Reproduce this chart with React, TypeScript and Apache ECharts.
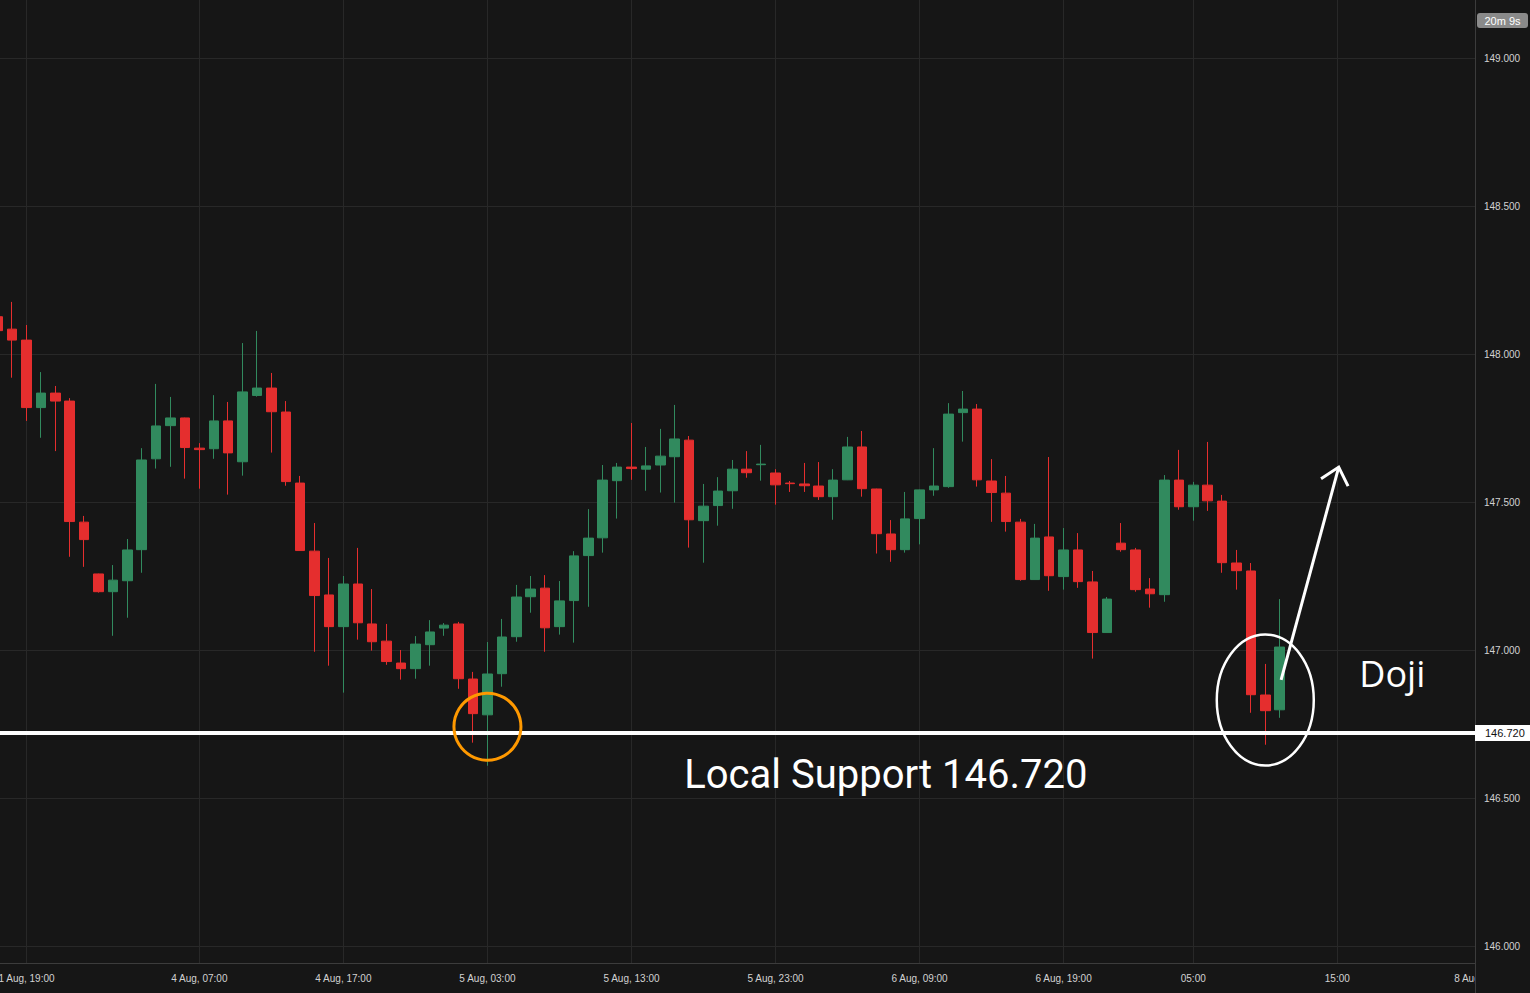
import React, { useEffect, useRef } from 'react';
import * as echarts from 'echarts';

// Hourly candles; x position = FIRST_INDEX + array position (hour slots)
const FIRST_INDEX = -1;
const opens = [
  148.126, 148.084, 148.047, 147.819, 147.868, 147.841, 147.432, 147.257, 147.197, 147.234,
  147.339, 147.646, 147.758, 147.784, 147.682, 147.680, 147.774, 147.636, 147.860, 147.885,
  147.804, 147.564, 147.334, 147.186, 147.079, 147.223, 147.088, 147.030, 146.956, 146.937,
  147.018, 147.074, 147.088, 146.902, 146.781, 146.920, 147.045, 147.180, 147.209, 147.079,
  147.167, 147.319, 147.379, 147.572, 147.618, 147.611, 147.625, 147.653, 147.709, 147.437,
  147.488, 147.538, 147.611, 147.626, 147.598, 147.564, 147.561, 147.554, 147.518, 147.575,
  147.686, 147.544, 147.392, 147.339, 147.444, 147.541, 147.552, 147.802, 147.814, 147.571,
  147.530, 147.432, 147.238, 147.382, 147.248, 147.338, 147.230, 147.059, 147.361, 147.338,
  147.206, 147.187, 147.574, 147.484, 147.557, 147.503, 147.294, 147.267, 146.848, 146.798,
];
const closes = [
  148.079, 148.047, 147.819, 147.868, 147.841, 147.434, 147.373, 147.197, 147.236, 147.338,
  147.642, 147.757, 147.784, 147.684, 147.677, 147.774, 147.666, 147.872, 147.885, 147.805,
  147.569, 147.336, 147.184, 147.079, 147.223, 147.092, 147.028, 146.961, 146.937, 147.020,
  147.061, 147.084, 146.903, 146.785, 146.919, 147.044, 147.179, 147.206, 147.075, 147.166,
  147.318, 147.378, 147.574, 147.618, 147.613, 147.622, 147.655, 147.713, 147.440, 147.486,
  147.537, 147.611, 147.599, 147.628, 147.558, 147.562, 147.555, 147.518, 147.574, 147.686,
  147.545, 147.393, 147.339, 147.443, 147.541, 147.554, 147.797, 147.814, 147.575, 147.532,
  147.434, 147.238, 147.378, 147.251, 147.338, 147.231, 147.059, 147.172, 147.339, 147.204,
  147.190, 147.574, 147.484, 147.557, 147.504, 147.295, 147.268, 146.849, 146.795, 147.010,
];
const lows = [
  148.060, 147.920, 147.774, 147.717, 147.672, 147.315, 147.281, 147.194, 147.048, 147.109,
  147.261, 147.613, 147.619, 147.579, 147.545, 147.646, 147.525, 147.589, 147.856, 147.667,
  147.555, 147.336, 146.994, 146.947, 146.856, 147.035, 146.998, 146.950, 146.900, 146.903,
  146.947, 147.048, 146.869, 146.687, 146.609, 146.876, 147.028, 147.126, 146.994, 147.052,
  147.025, 147.146, 147.329, 147.444, 147.575, 147.538, 147.532, 147.498, 147.346, 147.295,
  147.420, 147.477, 147.582, 147.572, 147.491, 147.534, 147.534, 147.507, 147.440, 147.574,
  147.518, 147.326, 147.298, 147.329, 147.357, 147.521, 147.548, 147.704, 147.552, 147.433,
  147.400, 147.234, 147.237, 147.200, 147.204, 147.210, 146.971, 147.058, 147.332, 147.197,
  147.143, 147.163, 147.474, 147.437, 147.470, 147.261, 147.204, 146.788, 146.680, 146.771,
];
const highs = [
  148.140, 148.176, 148.098, 147.939, 147.892, 147.851, 147.453, 147.258, 147.287, 147.375,
  147.682, 147.899, 147.855, 147.785, 147.699, 147.861, 147.838, 148.037, 148.078, 147.936,
  147.841, 147.588, 147.429, 147.311, 147.250, 147.345, 147.206, 147.088, 147.000, 147.047,
  147.101, 147.091, 147.095, 146.926, 147.027, 147.105, 147.220, 147.250, 147.253, 147.233,
  147.334, 147.476, 147.625, 147.632, 147.767, 147.686, 147.747, 147.828, 147.723, 147.561,
  147.584, 147.642, 147.672, 147.693, 147.611, 147.571, 147.632, 147.635, 147.611, 147.720,
  147.740, 147.545, 147.439, 147.534, 147.542, 147.682, 147.834, 147.875, 147.831, 147.645,
  147.588, 147.443, 147.426, 147.652, 147.412, 147.395, 147.267, 147.179, 147.429, 147.345,
  147.243, 147.591, 147.676, 147.568, 147.703, 147.524, 147.338, 147.294, 146.953, 147.172,
];

const timeTickSlots = [1, 13, 23, 33, 43, 53, 63, 73, 82, 92];
const timeTickLabels = [
  '1 Aug, 19:00', '4 Aug, 07:00', '4 Aug, 17:00', '5 Aug, 03:00', '5 Aug, 13:00',
  '5 Aug, 23:00', '6 Aug, 09:00', '6 Aug, 19:00', '05:00', '15:00',
];
const edgeSlot = 101;
const edgeLabel = '8 Aug';
const priceTicks = [146.0, 146.5, 147.0, 147.5, 148.0, 148.5, 149.0];
const supportLevel = 146.72;
const countdownText = '20m 9s';

const BG = '#161616';
const GRID = '#282828';
const AXIS = '#3c3c3c';
const GREEN = '#318a5e';
const RED = '#e52e2e';

export default function App() {
  const ref = useRef<HTMLDivElement>(null);

  useEffect(() => {
    document.body.style.margin = '0';
    document.body.style.background = BG;
    const el = ref.current;
    if (!el) return;
    const chart = echarts.init(el, undefined, { renderer: 'svg' });

    const data = opens.map((o, i) => [FIRST_INDEX + i, o, closes[i], lows[i], highs[i]]);
    const labelMap: Record<number, string> = {};
    timeTickSlots.forEach((s, i) => (labelMap[s] = timeTickLabels[i]));
    labelMap[edgeSlot] = edgeLabel;

    const axisFont = "'Liberation Sans', Arial, sans-serif";

    chart.setOption({
      animation: false,
      backgroundColor: BG,
      grid: { left: 0, right: 55, top: 0, bottom: 30, containLabel: false, outerBoundsMode: 'none' },
      xAxis: {
        type: 'value',
        min: -0.84,
        max: 101.56,
        axisLine: { show: true, onZero: false, lineStyle: { color: AXIS, width: 1 } },
        axisTick: { show: false, customValues: timeTickSlots },
        axisLabel: {
          customValues: [...timeTickSlots, edgeSlot],
          formatter: (v: number) => labelMap[Math.round(v)] ?? '',
          color: '#d2d2d2',
          fontSize: 10,
          fontFamily: axisFont,
          margin: 10,
        },
        splitLine: { show: true, lineStyle: { color: GRID, width: 1 } },
      },
      yAxis: {
        type: 'value',
        position: 'right',
        min: 145.9426,
        max: 149.196,
        scale: true,
        axisLine: { show: true, onZero: false, lineStyle: { color: AXIS, width: 1 } },
        axisTick: { show: false, customValues: priceTicks },
        axisLabel: {
          customValues: priceTicks,
          formatter: (v: number) => v.toFixed(3),
          color: '#d2d2d2',
          fontSize: 10,
          fontFamily: axisFont,
          margin: 9,
        },
        splitLine: { show: true, lineStyle: { color: GRID, width: 1 } },
      },
      series: [
        {
          type: 'candlestick',
          data,
          encode: { x: 0, y: [1, 2, 3, 4] },
          barWidth: 10,
          itemStyle: {
            color: GREEN,
            color0: RED,
            borderColor: GREEN,
            borderColor0: RED,
            borderColorDoji: GREEN,
            borderWidth: 1,
          },
          markLine: {
            silent: true,
            symbol: ['none', 'none'],
            data: [{ yAxis: supportLevel }],
            lineStyle: { color: '#ffffff', width: 4, type: 'solid' },
            label: {
              show: true,
              position: 'end',
              distance: 0,
              formatter: supportLevel.toFixed(3),
              color: '#111111',
              backgroundColor: '#ffffff',
              padding: [3, 10, 2, 10],
              fontSize: 11,
              fontFamily: axisFont,
            },
          },
        },
      ],
    });

    const px = (x: number, y: number) => chart.convertToPixel({ gridIndex: 0 }, [x, y]) as number[];

    const circleC = px(33, 146.741);
    const ellC = px(87, 146.831);
    const arrowStart = px(88.1, 146.899);
    const arrowTip = px(92.1, 147.618);
    const dx = arrowTip[0] - arrowStart[0];
    const dy = arrowTip[1] - arrowStart[1];
    const len = Math.hypot(dx, dy);
    const ux = dx / len, uy = dy / len;
    const bx = -ux, by = -uy;
    const pxp = -uy, pyp = ux;
    const hl = 16, hw = 14;
    const headL = [arrowTip[0] + bx * hl - pxp * hw, arrowTip[1] + by * hl - pyp * hw];
    const headR = [arrowTip[0] + bx * hl + pxp * hw, arrowTip[1] + by * hl + pyp * hw];
    const supportText = px(46.66, 146.581);
    const dojiText = px(93.53, 146.922);

    chart.setOption({
      graphic: [
        {
          type: 'circle',
          shape: { cx: circleC[0], cy: circleC[1], r: 33.5 },
          style: { fill: 'none', stroke: '#ff9900', lineWidth: 3 },
          z: 50,
        },
        {
          type: 'ellipse',
          shape: { cx: ellC[0], cy: ellC[1], rx: 48.5, ry: 65.5 },
          style: { fill: 'none', stroke: '#ffffff', lineWidth: 2.5 },
          z: 50,
        },
        {
          type: 'line',
          shape: { x1: arrowStart[0], y1: arrowStart[1], x2: arrowTip[0], y2: arrowTip[1] },
          style: { stroke: '#ffffff', lineWidth: 3 },
          z: 50,
        },
        {
          type: 'polyline',
          shape: { points: [headL, arrowTip, headR] },
          style: { stroke: '#ffffff', lineWidth: 3, fill: 'none' },
          z: 50,
        },
        {
          type: 'text',
          x: supportText[0],
          y: supportText[1],
          style: {
            text: 'Local Support 146.720',
            fill: '#ffffff',
            fontSize: 40,
            fontFamily: "Roboto, 'Noto Sans', sans-serif",
            align: 'left',
            verticalAlign: 'middle',
          },
          z: 50,
        },
        {
          type: 'text',
          x: dojiText[0],
          y: dojiText[1],
          style: {
            text: 'Doji',
            fill: '#ffffff',
            fontSize: 36,
            fontFamily: "'Open Sans', 'Noto Sans', sans-serif",
            align: 'left',
            verticalAlign: 'middle',
          },
          z: 50,
        },
        // clip area right of the plot below the x-axis
        {
          type: 'rect',
          shape: { x: 1475.5, y: 964, width: 60, height: 30 },
          style: { fill: BG },
          z: 60,
        },
        {
          type: 'line',
          shape: { x1: 1475.5, y1: 963, x2: 1475.5, y2: 993 },
          style: { stroke: AXIS, lineWidth: 1 },
          z: 61,
        },
        {
          type: 'rect',
          shape: { x: 1477, y: 13, width: 51, height: 15, r: 3 },
          style: { fill: '#8a8a8a' },
          z: 61,
        },
        {
          type: 'text',
          x: 1502.5,
          y: 20.5,
          style: {
            text: countdownText,
            fill: '#ffffff',
            fontSize: 11,
            fontFamily: axisFont,
            align: 'center',
            verticalAlign: 'middle',
          },
          z: 62,
        },
      ],
    });

    return () => {
      chart.dispose();
    };
  }, []);

  return <div ref={ref} style={{ width: 1530, height: 993, background: BG }} />;
}
